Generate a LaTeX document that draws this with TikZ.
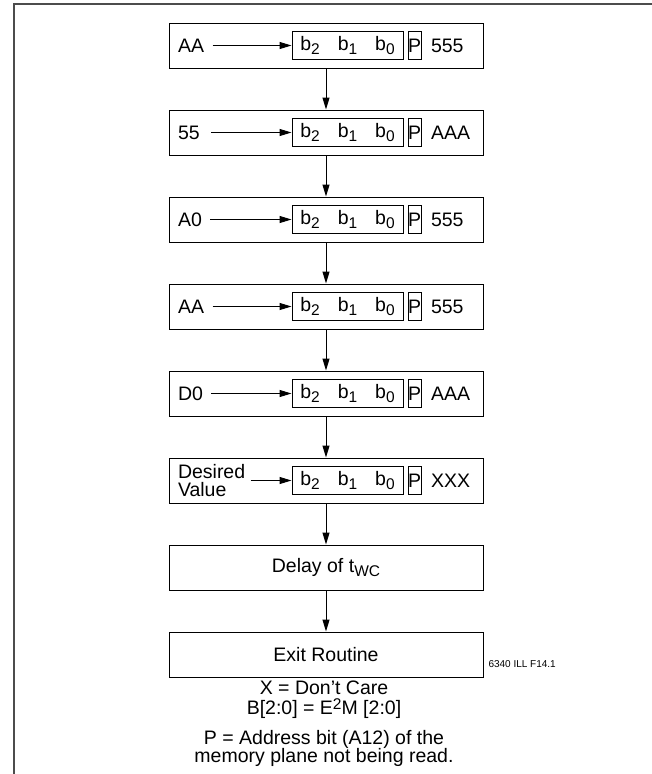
\documentclass[tikz,border=0pt]{standalone}
\usepackage{fontspec}
\setmainfont{Liberation Sans}
\usetikzlibrary{arrows.meta,positioning}
\newcommand{\lo}[1]{\raisebox{-4pt}{\fontsize{15.5}{15.5}\selectfont #1}}
\newcommand{\hi}[1]{\raisebox{5pt}{\fontsize{15.5}{15.5}\selectfont #1}}
\newcommand{\bits}{b\lo{2}\hspace{18pt}b\lo{1}\hspace{18pt}b\lo{0}}

\begin{document}
\begin{tikzpicture}[x=1pt, y=1pt, node distance=41pt, line width=1pt, every node/.style={font=\fontsize{19.5}{22}\selectfont, inner sep=0pt}, stage/.style={draw, minimum width=314pt, minimum height=45pt}, bitbox/.style={draw, minimum width=111pt, minimum height=28pt}, pbox/.style={draw, minimum width=13pt, minimum height=28pt}, >={Triangle[length=12pt,width=7pt]}]
\useasboundingbox (0,0) rectangle (652,-774);
\draw[line width=2pt, black!70] (14,-774) |- (652,-4);
% the eight steps
\node[stage] (s1) at (326,-45.5) {};
\node[stage, below=of s1] (s2) {};
\node[stage, below=of s2] (s3) {};
\node[stage, below=of s3] (s4) {};
\node[stage, below=of s4] (s5) {};
\node[stage, below=of s5] (s6) {};
\node[stage, below=of s6] (delay) {Delay of t\lo{WC}};
\node[stage, below=of delay] (exit) {Exit Routine};
% data written in each step
\node[right=9pt of s1.west] (l1) {AA};
\node[bitbox] (b1) at ([xshift=21.5pt]s1.center) {\bits};
\node[pbox, right=4pt of b1] (p1) {P}; \node[right=9pt of p1] (a1) {555};
\node[right=9pt of s2.west] (l2) {55};
\node[bitbox] (b2) at ([xshift=21.5pt]s2.center) {\bits};
\node[pbox, right=4pt of b2] (p2) {P}; \node[right=9pt of p2] (a2) {AAA};
\node[right=9pt of s3.west] (l3) {A0};
\node[bitbox] (b3) at ([xshift=21.5pt]s3.center) {\bits};
\node[pbox, right=4pt of b3] (p3) {P}; \node[right=9pt of p3] (a3) {555};
\node[right=9pt of s4.west] (l4) {AA};
\node[bitbox] (b4) at ([xshift=21.5pt]s4.center) {\bits};
\node[pbox, right=4pt of b4] (p4) {P}; \node[right=9pt of p4] (a4) {555};
\node[right=9pt of s5.west] (l5) {D0};
\node[bitbox] (b5) at ([xshift=21.5pt]s5.center) {\bits};
\node[pbox, right=4pt of b5] (p5) {P}; \node[right=9pt of p5] (a5) {AAA};
\node[right=9pt of s6.west, align=left, font=\fontsize{19.5}{18.5}\selectfont] (l6) {Desired\\Value};
\node[bitbox] (b6) at ([xshift=21.5pt]s6.center) {\bits};
\node[pbox, right=4pt of b6] (p6) {P}; \node[right=9pt of p6] (a6) {XXX};
\draw[->, shorten <=8pt] (l1) -- (b1); \draw[->, shorten <=11pt] (l2) -- (b2);
\draw[->, shorten <=8pt] (l3) -- (b3); \draw[->, shorten <=8pt] (l4) -- (b4);
\draw[->, shorten <=8pt] (l5) -- (b5); \draw[->, shorten <=5pt] (l6) -- (b6);
\draw[->] (s1) -- (s2); \draw[->] (s2) -- (s3); \draw[->] (s3) -- (s4);
\draw[->] (s4) -- (s5); \draw[->] (s5) -- (s6); \draw[->] (s6) -- (delay);
\draw[->] (delay) -- (exit);
% notes
\node[anchor=base west, font=\fontsize{10}{12}\selectfont] (fig) at (488,-667) {6340 ILL F14.1};
\node[anchor=base] (dc) at (324,-694) {X = Don't Care};
\node[anchor=base] (bm) at (324,-714) {B[2:0] = E\hi{2}M [2:0]};
\node[anchor=base] (pa) at (324,-744) {P = Address bit (A12) of the};
\node[anchor=base] (mp) at (324,-762) {memory plane not being read.};
\end{tikzpicture}
\end{document}
